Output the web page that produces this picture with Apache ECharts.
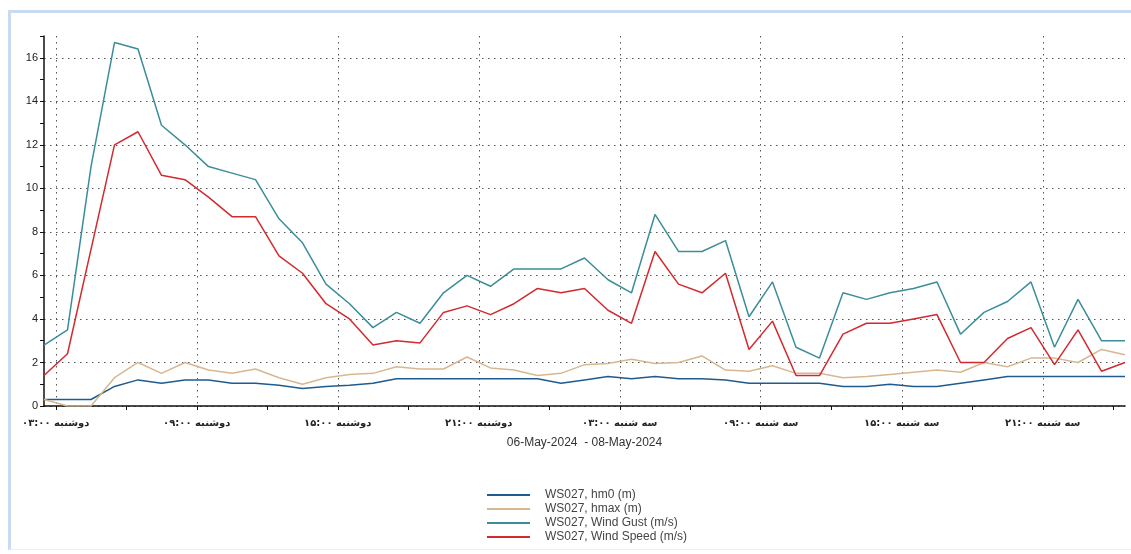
<!DOCTYPE html>
<html>
<head>
<meta charset="utf-8">
<script src="https://cdn.jsdelivr.net/npm/echarts@6/dist/echarts.min.js"></script>
<style>
html,body{margin:0;padding:0;background:#fff;}
#frame{position:absolute;left:8px;top:10px;right:-4px;bottom:4px;border-left:3px solid #c9dbf2;border-top:3px solid #c9dbf2;border-bottom:1px solid #f1eeee;}
#chart{position:absolute;left:0;top:0;width:1131px;height:554px;}
</style>
</head>
<body>
<div id="frame"></div>
<div id="chart"></div>
<script>
// Hourly sample times
const times = [
 '2024-05-06 02:30','2024-05-06 03:30','2024-05-06 04:30','2024-05-06 05:30','2024-05-06 06:30','2024-05-06 07:30',
 '2024-05-06 08:30','2024-05-06 09:30','2024-05-06 10:30','2024-05-06 11:30','2024-05-06 12:30','2024-05-06 13:30',
 '2024-05-06 14:30','2024-05-06 15:30','2024-05-06 16:30','2024-05-06 17:30','2024-05-06 18:30','2024-05-06 19:30',
 '2024-05-06 20:30','2024-05-06 21:30','2024-05-06 22:30','2024-05-06 23:30',
 '2024-05-07 00:30','2024-05-07 01:30','2024-05-07 02:30','2024-05-07 03:30','2024-05-07 04:30','2024-05-07 05:30',
 '2024-05-07 06:30','2024-05-07 07:30','2024-05-07 08:30','2024-05-07 09:30','2024-05-07 10:30','2024-05-07 11:30',
 '2024-05-07 12:30','2024-05-07 13:30','2024-05-07 14:30','2024-05-07 15:30','2024-05-07 16:30','2024-05-07 17:30',
 '2024-05-07 18:30','2024-05-07 19:30','2024-05-07 20:30','2024-05-07 21:30','2024-05-07 22:30','2024-05-07 23:30',
 '2024-05-08 00:30'
];
const hm0 = [0.3,0.3,0.3,0.9,1.2,1.05,1.2,1.2,1.05,1.05,0.95,0.8,0.9,0.95,1.05,1.25,1.25,1.25,1.25,1.25,1.25,1.25,
 1.05,1.2,1.35,1.25,1.35,1.25,1.25,1.2,1.05,1.05,1.05,1.05,0.9,0.9,1.0,0.9,0.9,1.05,1.2,1.35,1.35,1.35,1.35,1.35,1.35];
const hmax = [0.3,0.0,0.0,1.3,2.0,1.5,2.0,1.65,1.5,1.7,1.3,1.0,1.3,1.45,1.5,1.8,1.7,1.7,2.25,1.75,1.65,1.4,
 1.5,1.9,1.95,2.15,1.95,2.0,2.3,1.65,1.6,1.85,1.5,1.5,1.3,1.35,1.45,1.55,1.65,1.55,2.0,1.8,2.2,2.2,2.0,2.6,2.35];
const windGust = [2.8,3.5,11.0,16.7,16.4,12.9,12.0,11.0,10.7,10.4,8.6,7.5,5.6,4.7,3.6,4.3,3.8,5.2,6.0,5.5,6.3,6.3,
 6.3,6.8,5.8,5.2,8.8,7.1,7.1,7.6,4.1,5.7,2.7,2.2,5.2,4.9,5.2,5.4,5.7,3.3,4.3,4.8,5.7,2.7,4.9,3.0,3.0];
const windSpeed = [1.4,2.4,7.2,12.0,12.6,10.6,10.4,9.6,8.7,8.7,6.9,6.1,4.7,4.0,2.8,3.0,2.9,4.3,4.6,4.2,4.7,5.4,
 5.2,5.4,4.4,3.8,7.1,5.6,5.2,6.1,2.6,3.9,1.4,1.4,3.3,3.8,3.8,4.0,4.2,2.0,2.0,3.1,3.6,1.9,3.5,1.6,2.0];
const seriesNames = ['WS027, hm0 (m)','WS027, hmax (m)','WS027, Wind Gust (m/s)','WS027, Wind Speed (m/s)'];
const tickTimes = [
 '2024-05-06 03:00','2024-05-06 06:00','2024-05-06 09:00','2024-05-06 12:00','2024-05-06 15:00','2024-05-06 18:00',
 '2024-05-06 21:00','2024-05-07 00:00','2024-05-07 03:00','2024-05-07 06:00','2024-05-07 09:00','2024-05-07 12:00',
 '2024-05-07 15:00','2024-05-07 18:00','2024-05-07 21:00','2024-05-08 00:00'
];
const labelTimes = ['2024-05-06 03:00','2024-05-06 09:00','2024-05-06 15:00','2024-05-06 21:00',
 '2024-05-07 03:00','2024-05-07 09:00','2024-05-07 15:00','2024-05-07 21:00'];
const dayNames = {6:'دوشنبه', 7:'سه شنبه', 8:'چهارشنبه'};
const axisTitle = '06-May-2024  - 08-May-2024';
const xMin = '2024-05-06 02:30';
const xMax = '2024-05-08 00:30';

// hours since 2024-05-06 00:00
function hrs(s){ const [d,t]=s.split(' '); const D=Number(d.split('-')[2]); const [h,m]=t.split(':').map(Number); return (D-6)*24+h+m/60; }
const faDigits = '۰۱۲۳۴۵۶۷۸۹';
function fa(n){ return String(n).padStart(2,'0').replace(/\d/g, d=>faDigits[d]); }

const colors = ['#1f5b8e','#d8b790','#3b8e99','#d22a2e'];
const chart = echarts.init(document.getElementById('chart'), null, {renderer:'canvas'});
const vals = [hm0,hmax,windGust,windSpeed];
chart.setOption({
  backgroundColor:'transparent',
  animation:false,
  grid:{left:44,right:6,top:36,bottom:148,containLabel:false},
  legend:{
    orient:'vertical', left:487, top:489, padding:0, itemWidth:43, itemHeight:2, itemGap:2, icon:'rect',
    textStyle:{fontFamily:'Liberation Sans, Arial, sans-serif',fontSize:12,color:'#444',lineHeight:12,padding:[0,0,0,10]},
    data:seriesNames
  },
  xAxis:{
    type:'value', min:hrs(xMin), max:hrs(xMax),
    name:axisTitle, nameLocation:'middle', nameGap:31,
    nameTextStyle:{fontFamily:'Liberation Sans, Arial, sans-serif',fontSize:12,color:'#333'},
    axisLine:{lineStyle:{color:'#111',width:1.5}},
    axisTick:{customValues:tickTimes.map(hrs),length:4,lineStyle:{color:'#111'}},
    axisLabel:{customValues:labelTimes.map(hrs),margin:12,fontFamily:'DejaVu Sans, sans-serif',fontSize:10,fontWeight:'bold',color:'#222',
      formatter:function(v){ const day=6+Math.floor(v/24); const h=Math.round(v-(day-6)*24); return dayNames[day]+' '+fa(h)+':'+fa(0);} },
    splitLine:{show:true,lineStyle:{color:['#555','transparent'],type:[1.5,4.5],width:1}}
  },
  yAxis:{
    type:'value', min:0, max:17, interval:1,
    axisLine:{show:true,lineStyle:{color:'#111',width:1.5}},
    axisTick:{show:true,length:4,lineStyle:{color:'#111'}},
    axisLabel:{fontFamily:'Liberation Sans, Arial, sans-serif',fontSize:11,color:'#222',margin:6,
      formatter:function(v){ return (v%2===0 && v<17)? String(v):''; }},
    splitLine:{show:true,lineStyle:{color:['#555','transparent'],type:[1.5,4.5],width:1}}
  },
  series: seriesNames.map((n,i)=>({
    name:n, type:'line', showSymbol:false, symbol:'none',
    lineStyle:{color:colors[i],width:1.5}, itemStyle:{color:colors[i]},
    data: times.map((t,j)=>[hrs(t), vals[i][j]])
  }))
});
</script>
</body>
</html>
